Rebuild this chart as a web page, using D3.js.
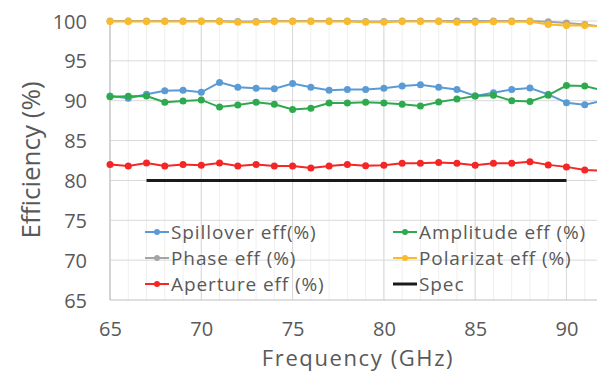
<!DOCTYPE html>
<html><head><meta charset="utf-8">
<script src="https://cdn.jsdelivr.net/npm/d3@7"></script>
<style>body{margin:0;background:#fff;overflow:hidden}svg{display:block}text{font-family:"Open Sans","Noto Sans",sans-serif;fill:#595959}</style>
</head><body><svg id="c" width="597" height="372"></svg>
<script>
const freq = d3.range(65, 93);
const spillover = [90.6,90.3,90.8,91.25,91.3,91.05,92.3,91.7,91.55,91.5,92.15,91.7,91.3,91.4,91.4,91.55,91.85,92.0,91.7,91.4,90.6,91.0,91.4,91.6,90.8,89.75,89.5,90.0];
const amplitude = [90.5,90.55,90.6,89.8,89.95,90.1,89.2,89.45,89.8,89.55,88.9,89.05,89.7,89.7,89.8,89.7,89.55,89.35,89.85,90.2,90.6,90.7,90.0,89.9,90.7,91.9,91.85,91.3];
const phase = [100,100,100,100,100,100,100,99.95,99.95,100,100,100,100,100,99.95,99.95,100,100,100,100,100,100,100,100,99.9,99.75,99.55,99.3];
const polarization = [99.95,99.95,99.95,99.95,99.95,99.95,99.95,99.85,99.85,99.95,99.95,99.95,99.95,99.95,99.85,99.85,99.95,99.95,99.95,99.85,99.85,99.9,99.9,99.95,99.55,99.45,99.45,99.3];
const aperture = [82.0,81.8,82.2,81.8,82.0,81.9,82.2,81.8,82.0,81.8,81.8,81.55,81.8,82.0,81.85,81.9,82.15,82.15,82.25,82.15,81.9,82.15,82.15,82.35,81.95,81.7,81.3,81.2];
const specFreq = [67, 90];
const specVal = [80, 80];
const yTicks = [65,70,75,80,85,90,95,100];
const xTicks = [65,70,75,80,85,90];

const series = [
  {name:"Spillover eff(%)", color:"#5B9BD5", vals:spillover, marker:true},
  {name:"Amplitude eff (%)", color:"#2EAA4E", vals:amplitude, marker:true},
  {name:"Phase eff (%)", color:"#A5A5A5", vals:phase, marker:true},
  {name:"Polarizat eff (%)", color:"#FBBA27", vals:polarization, marker:true},
  {name:"Aperture eff (%)", color:"#F42626", vals:aperture, marker:true},
  {name:"Spec", color:"#1a1a1a", vals:null, marker:false}
];

const svg = d3.select("#c");
const x = d3.scaleLinear().domain([65, 92]).range([110, 603]);
const y = d3.scaleLinear().domain([65, 100]).range([300, 21]);

svg.append("g").selectAll("line").data(d3.range(65, 93)).join("line")
  .attr("x1", d => x(d)).attr("x2", d => x(d)).attr("y1", y(100)).attr("y2", y(65))
  .attr("stroke", "#efefef").attr("stroke-width", 1);
svg.append("g").selectAll("line").data(xTicks).join("line")
  .attr("x1", d => x(d)).attr("x2", d => x(d)).attr("y1", y(100)).attr("y2", y(65))
  .attr("stroke", "#d9d9d9").attr("stroke-width", 1);
svg.append("g").selectAll("line").data(yTicks).join("line")
  .attr("x1", x(65)).attr("x2", 597).attr("y1", d => y(d)).attr("y2", d => y(d))
  .attr("stroke", d => d === 65 ? "#bfbfbf" : "#d9d9d9").attr("stroke-width", 1);
svg.append("line").attr("x1", x(65)).attr("x2", x(65)).attr("y1", y(100)).attr("y2", y(65)).attr("stroke", "#bfbfbf");

const yAxis = svg.append("g").attr("transform", `translate(${x(65)-23},0)`)
  .call(d3.axisLeft(y).tickValues(yTicks).tickSize(0).tickPadding(0));
yAxis.select(".domain").remove();
yAxis.selectAll("text").style("font-size", "20px").attr("fill", "#595959").attr("dy", "0.35em");

const xAxis = svg.append("g").attr("transform", `translate(0,${y(65)+21.5})`)
  .call(d3.axisBottom(x).tickValues(xTicks).tickSize(0).tickPadding(0));
xAxis.select(".domain").remove();
xAxis.selectAll("text").style("font-size", "20px").attr("fill", "#595959").attr("dy", "0.71em");

svg.append("text").attr("x", 358).attr("y", 365.5).attr("text-anchor", "middle")
  .style("font-size", "22px").style("letter-spacing", "1.6px").text("Frequency (GHz)");
svg.append("text").attr("transform", `translate(40,160) rotate(-90)`).attr("text-anchor", "middle")
  .style("font-size", "26px").text("Efficiency (%)");

const line = d3.line().x(d => x(d[0])).y(d => y(d[1]));
series.forEach(s => {
  const pts = s.vals ? freq.map((f, i) => [f, s.vals[i]]) : specFreq.map((f, i) => [f, specVal[i]]);
  svg.append("path").datum(pts).attr("d", line).attr("fill", "none")
    .attr("stroke", s.color).attr("stroke-width", s.vals ? 2 : 3);
  if (s.marker) {
    svg.append("g").selectAll("circle").data(pts).join("circle")
      .attr("cx", d => x(d[0])).attr("cy", d => y(d[1])).attr("r", 3.5).attr("fill", s.color);
  }
});

const legX = [145, 393], legY = [232, 258, 284];
series.forEach((s, i) => {
  const g = svg.append("g").attr("transform", `translate(${legX[i%2]},${legY[Math.floor(i/2)]})`);
  g.append("line").attr("x1", 0).attr("x2", 24).attr("y1", 0).attr("y2", 0)
    .attr("stroke", s.color).attr("stroke-width", s.marker ? 2 : 3);
  if (s.marker) g.append("circle").attr("cx", 12).attr("cy", 0).attr("r", 3).attr("fill", s.color);
  g.append("text").attr("x", 26).attr("y", 0).attr("dy", "0.35em")
    .style("font-size", "19px").style("letter-spacing", "0.9px").text(s.name);
});
</script></body></html>
